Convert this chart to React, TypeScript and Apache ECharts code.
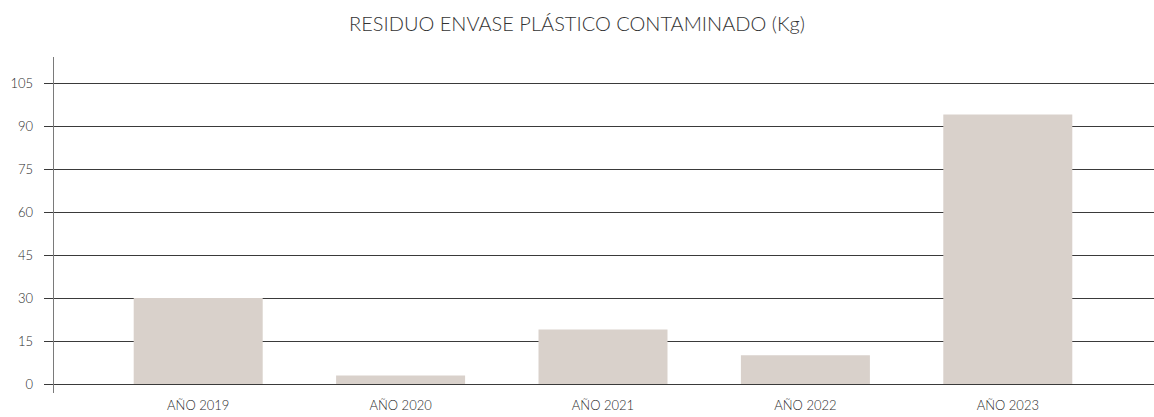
import React, { useEffect, useRef } from "react";
import * as echarts from "echarts";

const titleText = "RESIDUO ENVASE PLÁSTICO CONTAMINADO (Kg)";
const categories = ["AÑO 2019", "AÑO 2020", "AÑO 2021", "AÑO 2022", "AÑO 2023"];
const values = [30, 3, 19, 10, 94];
const yMin = 0;
const yMax = 105;
const yInterval = 15;

export default function App() {
  const ref = useRef<HTMLDivElement>(null);
  useEffect(() => {
    if (!ref.current) return;
    const chart = echarts.init(ref.current, undefined, { renderer: "svg" });
    const font = "Lato, 'Open Sans', sans-serif";
    chart.setOption({
      animation: false,
      title: {
        text: titleText,
        left: "center",
        top: 8,
        textStyle: { fontFamily: font, fontSize: 20, fontWeight: 300, color: "#333" },
      },
      grid: [
        { left: 53, right: 0, top: 83, bottom: 33 },
        { left: 97, right: 45, top: 83, bottom: 33 },
      ],
      xAxis: [
        { type: "category", gridIndex: 0, data: categories, show: false },
        {
          type: "category",
          gridIndex: 1,
          data: categories,
          axisLine: { show: false },
          axisTick: { show: false },
          axisLabel: { color: "#2a2a2a", fontSize: 13, fontFamily: font, fontWeight: 300, margin: 14 },
        },
      ],
      yAxis: [
        {
          type: "value",
          gridIndex: 0,
          min: yMin,
          max: yMax,
          interval: yInterval,
          axisLine: { show: false },
          axisTick: { show: true, length: 9, lineStyle: { color: "#3a3a3a" } },
          axisLabel: { color: "#2a2a2a", fontSize: 13, fontFamily: font, fontWeight: 300, margin: 20 },
          splitLine: { show: true, lineStyle: { color: "#3a3a3a", width: 1 } },
        },
        { type: "value", gridIndex: 1, min: yMin, max: yMax, interval: yInterval, show: false },
      ],
      series: [
        {
          type: "bar",
          xAxisIndex: 1,
          yAxisIndex: 1,
          data: values,
          barWidth: 129,
          itemStyle: { color: "#d9d1cb" },
        },
      ],
      graphic: [
        {
          type: "line",
          shape: { x1: 53.5, y1: 57, x2: 53.5, y2: 393 },
          style: { stroke: "#7a7a7a", lineWidth: 1 },
          z: 10,
        },
      ],
    });
    return () => chart.dispose();
  }, []);
  return (
    <div
      ref={ref}
      style={{ position: "absolute", left: 0, top: 0, width: 1154, height: 417 }}
    />
  );
}
